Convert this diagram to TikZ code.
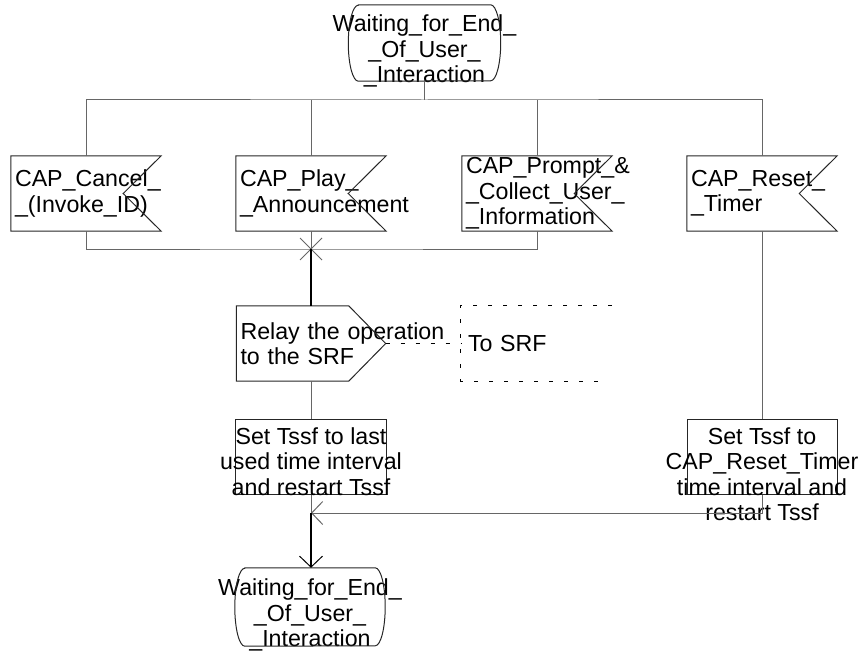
\documentclass[tikz,border=0pt]{standalone}
\usepackage{fontspec}
\setmainfont{Liberation Sans}
\usetikzlibrary{arrows.meta}
\usetikzlibrary{positioning}
\usetikzlibrary{calc}

\begin{document}
\begin{tikzpicture}[x=1pt, y=-1pt,
  every node/.style={font=\fontsize{23.2}{25.3}\selectfont, inner sep=0pt},
  flow/.style={draw=black!60, line width=1pt},
  mainflow/.style={draw=black, line width=1.8pt},
  outline/.style={draw=black!85, line width=1pt},
  sdlstate/.style={minimum width=152pt, minimum height=76pt},
  sdlinput/.style={minimum width=150pt, minimum height=75pt, text width=142pt, align=left},
  sdltask/.style={outline, minimum width=151pt, minimum height=75pt},
  words/.style={align=center},
  comment/.style={draw=black, line width=1pt, dash pattern=on 4pt off 11pt},
  barb/.style={-{Straight Barb[length=11pt, width=23pt, line width=1pt]}}]
        % Define the depth of the signal notches and points
        \def\notch{38pt}
        \def\point{37pt}
        % Define the side bulge of the states
        \def\bulge{10pt}

        \useasboundingbox (0,0) rectangle (861,650);

        % Draw the state we start from
        \node[sdlstate] (waitA) at (424.5,43) {};
        \node[words, anchor=north] (waitAtxt) at ([yshift=-10pt]waitA.north) {Waiting\_for\_End\_\\\_Of\_User\_\\\_Interaction};

        % Draw the input signals
        \node[sdlinput] (cancel) at (86,193.5) {CAP\_Cancel\_\\\_(Invoke\_ID)};
        \node[sdlinput] (play) at (311,193.5) {CAP\_Play\_\\\_Announcement};
        \node[sdlinput] (prompt) at (537,193.5) {CAP\_Prompt\_\&\\\_Collect\_User\_\\\_Information};
        \node[sdlinput] (reset) at (762,193.5) {CAP\_Reset\_\\\_Timer};

        \foreach \s in {cancel, play, prompt, reset}
        {
          % Outline with the notch on the right side
          \draw[outline] (\s.north west) -- (\s.north east) -- ([xshift=-\notch]\s.east) -- (\s.south east) -- (\s.south west) -- cycle;
        }

        % Draw the output signal and its comment
        \node[sdlinput, minimum width=149pt, text width=141pt] (relay) at (311,343.5) {\mbox{Relay the operation}\\to the SRF};
        \draw[outline] (relay.north west) -- ([xshift=-\point]relay.north east) -- (relay.east) -- ([xshift=-\point]relay.south east) -- (relay.south west) -- cycle;

        \node[sdlinput, minimum width=151pt, text width=137pt] (tosrf) at (536.5,343.5) {To SRF};
        \draw[comment] (tosrf.north east) -- (tosrf.north west) -- (tosrf.south west) -- ([xshift=-10pt]tosrf.south east);
        \draw[comment] (relay.east) -- (tosrf.west);

        % Draw the tasks
        \node[sdltask] (lastint) at (311,456.5) {};
        \node[words, anchor=north] (lastinttxt) at ([yshift=-9pt]lastint.north) {Set Tssf to last\\used time interval\\and restart Tssf};
        \node[sdltask, minimum width=150pt] (resettask) at (762,456.5) {};
        \node[words, anchor=north] (resettasktxt) at ([yshift=-9pt]resettask.north) {Set Tssf to\\CAP\_Reset\_Timer\\time interval and\\restart Tssf};

        % Draw the state we go back to
        \node[sdlstate, minimum width=150pt, minimum height=78pt] (waitB) at (310,607) {};
        \node[words, anchor=north] (waitBtxt) at ([yshift=-11pt]waitB.north) {Waiting\_for\_End\_\\\_Of\_User\_\\\_Interaction};

        \foreach \s/\r in {waitA/38pt, waitB/39pt}
        {
          % Outline with the curved sides
          \draw[outline] ([xshift=\bulge]\s.north west) -- ([xshift=-\bulge]\s.north east)
            arc[start angle=90, end angle=-90, x radius=\bulge, y radius=\r]
            -- ([xshift=\bulge]\s.south west)
            arc[start angle=270, end angle=90, x radius=\bulge, y radius=\r] -- cycle;
        }

        % Points where the flow lines split and join
        \coordinate (split) at (424.5,100);
        \coordinate (merge) at (311,249);
        \coordinate (join) at (311,513);

        \draw[flow] (waitA.south) -- (split);
        \draw[flow] (cancel.north) |- (split) -| (reset.north);
        \draw[flow] (split -| play) -- (play.north);
        \draw[flow] (split -| prompt) -- (prompt.north);

        \draw[flow] (cancel.south) |- (merge) -| (prompt.south);
        \draw[flow] (play.south) -- (merge);
        \draw[flow] ($(merge)+(-11,-11)$) -- ($(merge)+(11,11)$);
        \draw[flow] ($(merge)+(-11,11)$) -- ($(merge)+(11,-11)$);
        \draw[mainflow] (merge) -- (relay.north);

        \draw[flow] (relay.south) -- (lastint.north);
        \draw[flow] (lastint.south) -- (join);
        \draw[flow] (reset.south) -- (resettask.north);
        \draw[flow, barb] (resettask.south) |- (join);
        \draw[mainflow, barb] (join) -- (waitB.north -| join);
      \end{tikzpicture}
\end{document}
